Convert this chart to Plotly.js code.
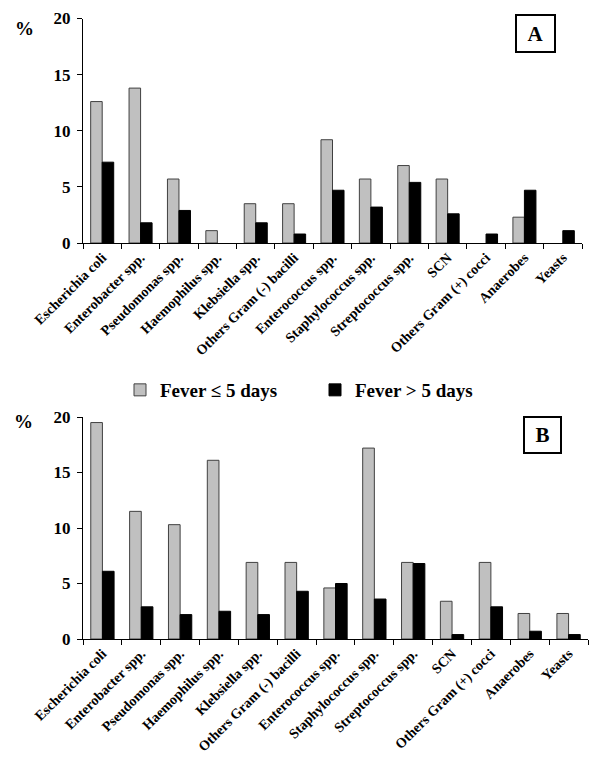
<!DOCTYPE html>
<html>
<head>
<meta charset="utf-8">
<script src="https://cdn.plot.ly/plotly-3.0.1.min.js"></script>
<style>html,body{margin:0;padding:0;background:#fff;}#chart{width:600px;height:770px;}</style>
</head>
<body>
<div id="chart"></div>
<script>
const categories = ["Escherichia coli","Enterobacter spp.","Pseudomonas spp.","Haemophilus spp.","Klebsiella spp.","Others Gram (-) bacilli","Enterococcus spp.","Staphylococcus spp.","Streptococcus spp.","SCN","Others Gram (+) cocci","Anaerobes","Yeasts"];
const seriesNames = ["Fever \u2264 5 days","Fever > 5 days"];
const panelA_short = [12.6,13.8,5.7,1.1,3.5,3.5,9.2,5.7,6.9,5.7,0,2.3,0];
const panelA_long  = [7.2,1.8,2.9,0,1.8,0.8,4.7,3.2,5.4,2.6,0.8,4.7,1.1];
const panelB_short = [19.5,11.5,10.3,16.1,6.9,6.9,4.6,17.2,6.9,3.4,6.9,2.3,2.3];
const panelB_long  = [6.1,2.9,2.2,2.5,2.2,4.3,5.0,3.6,6.8,0.4,2.9,0.7,0.4];
const panelLabels = ["A","B"];
const yTicks = [0,5,10,15,20];

const FONT = "Liberation Serif, Times New Roman, serif";
const gray = "#c0c0c0";

function bar(y, name, color, xa, ya, show) {
  return {
    type: "bar", x: categories, y: y, name: name,
    xaxis: xa, yaxis: ya, showlegend: show, legendgroup: name,
    marker: {color: color, line: {color: color === gray ? "#404040" : "#000",
             width: y.map(v => v > 0 ? 1 : 0)}},
    hoverinfo: "x+y"
  };
}

const data = [
  bar(panelA_short, seriesNames[0], gray, "x", "y", true),
  bar(panelA_long, seriesNames[1], "#000", "x", "y", true),
  bar(panelB_short, seriesNames[0], gray, "x2", "y2", false),
  bar(panelB_long, seriesNames[1], "#000", "x2", "y2", false)
];

function xax(domain, anchor) {
  return {
    domain: domain, anchor: anchor, type: "category",
    showline: true, linecolor: "#000", linewidth: 1,
    ticks: "outside", tickson: "boundaries", ticklen: 5, tickcolor: "#000",
    tickangle: -45, showgrid: false, zeroline: false, automargin: false,
    tickfont: {family: FONT, size: 14, color: "#000", weight: "bold"}
  };
}
function yax(domain, anchor) {
  return {
    domain: domain, anchor: anchor, range: [0, 20], tickvals: yTicks,
    showline: true, linecolor: "#000", linewidth: 1,
    ticks: "outside", ticklen: 5, tickcolor: "#000", ticklabelstandoff: 3,
    showgrid: false, zeroline: false, automargin: false,
    tickfont: {family: FONT, size: 17, color: "#000", weight: "bold"}
  };
}

const layout = {
  width: 600, height: 770,
  margin: {l: 0, r: 0, t: 0, b: 0},
  paper_bgcolor: "#fff", plot_bgcolor: "#fff",
  barmode: "group", bargap: 0.4, bargroupgap: 0,
  font: {family: FONT, color: "#000"},
  xaxis: xax([83/600, 582/600], "y"),
  yaxis: yax([1 - 243/770, 1 - 18.5/770], "x"),
  xaxis2: xax([83/600, 588/600], "y2"),
  yaxis2: yax([1 - 639/770, 1 - 417/770], "x2"),
  legend: {
    orientation: "h", x: 315/600, xanchor: "center", y: 1 - 390/770, yanchor: "middle",
    font: {family: FONT, size: 19, color: "#000", weight: "bold"},
    bgcolor: "rgba(0,0,0,0)", entrywidth: 150
  },
  annotations: [
    {text: "%", xref: "paper", yref: "paper", x: 24.5/600, y: 1 - 28.5/770, showarrow: false,
     xanchor: "center", yanchor: "middle",
     font: {family: FONT, size: 19, color: "#000", weight: "bold"}},
    {text: "%", xref: "paper", yref: "paper", x: 23.5/600, y: 1 - 421/770, showarrow: false,
     xanchor: "center", yanchor: "middle",
     font: {family: FONT, size: 19, color: "#000", weight: "bold"}},
    {text: panelLabels[0], xref: "paper", yref: "paper", x: 535.5/600, y: 1 - 33.5/770, showarrow: false,
     xanchor: "center", yanchor: "middle",
     width: 35, height: 33, bordercolor: "#000", borderwidth: 2, bgcolor: "#fff",
     font: {family: FONT, size: 21, color: "#000", weight: "bold"}},
    {text: panelLabels[1], xref: "paper", yref: "paper", x: 542.5/600, y: 1 - 435/770, showarrow: false,
     xanchor: "center", yanchor: "middle",
     width: 33, height: 32, bordercolor: "#000", borderwidth: 2, bgcolor: "#fff",
     font: {family: FONT, size: 21, color: "#000", weight: "bold"}}
  ]
};

Plotly.newPlot("chart", data, layout, {displayModeBar: false, staticPlot: true});
</script>
</body>
</html>
